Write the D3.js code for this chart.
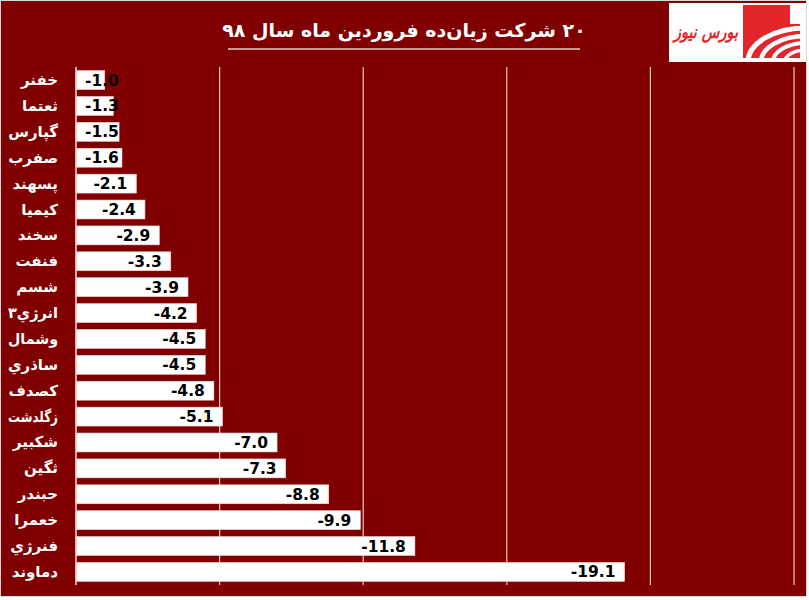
<!DOCTYPE html>
<html><head><meta charset="utf-8">
<script src="https://cdn.jsdelivr.net/npm/d3@7"></script>
<style>html,body{margin:0;padding:0;background:#fff;}svg{display:block;}</style>
</head><body>
<svg id="chart" width="809" height="600"></svg>
<script>
const categories = ["خفنر","ثعتما","گپارس","صفرب","پسهند","کیمیا","سخند","فنفت","شسم","انرژي۳","وشمال","ساذري","کصدف","زگلدشت","شکبیر","ثگین","حبندر","خعمرا","فنرژي","دماوند"];
const values = [-1.0,-1.3,-1.5,-1.6,-2.1,-2.4,-2.9,-3.3,-3.9,-4.2,-4.5,-4.5,-4.8,-5.1,-7.0,-7.3,-8.8,-9.9,-11.8,-19.1];
const tickValues = [0,-5,-10,-15,-20,-25];
const title = "۲۰ شرکت زیان‌ده فروردین ماه سال ۹۸";
const logoText = "بورس نیوز";

const svg = d3.select("#chart");
const bg = "#800000";
svg.append("rect").attr("x",0.5).attr("y",0.5).attr("width",806).attr("height",596)
  .attr("fill",bg).attr("stroke","#d9d9d9").attr("stroke-width",1);

const x = d3.scaleLinear().domain([0,-25]).range([76,794]);
const y = d3.scaleBand().domain(categories).range([67,585]).paddingInner(0.27).paddingOuter(0.14);

// gridlines
svg.append("g").selectAll("line").data(tickValues).join("line")
  .attr("x1",d=>x(d)).attr("x2",d=>x(d)).attr("y1",67).attr("y2",585)
  .attr("stroke","#f0c4c4").attr("stroke-width",1.2);

// bars
svg.append("g").selectAll("rect").data(values).join("rect")
  .attr("x",x(0)).attr("y",(d,i)=>y(categories[i]))
  .attr("width",d=>x(d)-x(0)).attr("height",y.bandwidth())
  .attr("fill","#ffffff").attr("stroke","#f3d6d6").attr("stroke-width",0.6);

// axis line
svg.append("line").attr("x1",x(0)).attr("x2",x(0)).attr("y1",67).attr("y2",585)
  .attr("stroke","#f0c4c4").attr("stroke-width",1.2);

// category labels
svg.append("g").selectAll("text").data(categories).join("text")
  .attr("x",58).attr("y",d=>y(d)+y.bandwidth()/2+5)
  .attr("text-anchor","end").attr("fill","#fff")
  .attr("font-family","DejaVu Sans, Tahoma, sans-serif").attr("font-weight","bold").attr("font-size",15)
  .text(d=>d)
  .each(function(){
    const w = this.getComputedTextLength();
    if (w > 50) d3.select(this).attr("textLength",50).attr("lengthAdjust","spacingAndGlyphs");
  });

// value labels
svg.append("g").selectAll("text").data(values).join("text")
  .attr("y",(d,i)=>y(categories[i])+y.bandwidth()/2+5.5)
  .attr("text-anchor","end").attr("fill","#000")
  .attr("font-family","DejaVu Sans, Verdana, sans-serif").attr("font-weight","bold").attr("font-size",15.5)
  .text(d=>d3.format(".1f")(d).replace("−","-"))
  .each(function(d){
    const w = this.getComputedTextLength();
    const xr = Math.max(x(d)-9, x(0)+9+w);
    d3.select(this).attr("x",xr);
  });

// title
svg.append("text").attr("x",404).attr("y",37).attr("direction","rtl")
  .attr("text-anchor","middle").attr("fill","#fff")
  .attr("font-family","DejaVu Sans, Tahoma, sans-serif").attr("font-weight","bold").attr("font-size",19)
  .text(title);
svg.append("line").attr("x1",228).attr("x2",580).attr("y1",49).attr("y2",49)
  .attr("stroke","#e8c8c8").attr("stroke-width",1.5);

// logo
const logo = svg.append("g");
logo.append("rect").attr("x",669).attr("y",3).attr("width",137).attr("height",59).attr("fill","#fff");
logo.append("path").attr("d","M743 5 H790 V24 H800 V58 H743 Z").attr("fill","#e3262b");
const cx = 806, cy = 62;
[[58,34,5],[45,26,4.5],[33,19,4],[21,12,3.5]].forEach(([rx,ry,sw])=>{
  logo.append("path")
    .attr("d",`M ${cx - rx} ${cy} A ${rx} ${ry} 0 0 1 ${cx} ${cy - ry}`)
    .attr("fill","none").attr("stroke","#fff").attr("stroke-width",sw);
});
logo.append("rect").attr("x",800).attr("y",3).attr("width",6).attr("height",59).attr("fill","#fff");
logo.append("rect").attr("x",743).attr("y",58).attr("width",63).attr("height",4).attr("fill","#fff");
logo.append("text").attr("x",706).attr("y",38).attr("text-anchor","middle")
  .attr("fill","#e3262b").attr("font-family","DejaVu Sans, sans-serif").attr("font-weight","bold")
  .attr("font-style","italic").attr("font-size",18).text(logoText)
  .attr("textLength",64).attr("lengthAdjust","spacingAndGlyphs");
</script>
</body></html>
